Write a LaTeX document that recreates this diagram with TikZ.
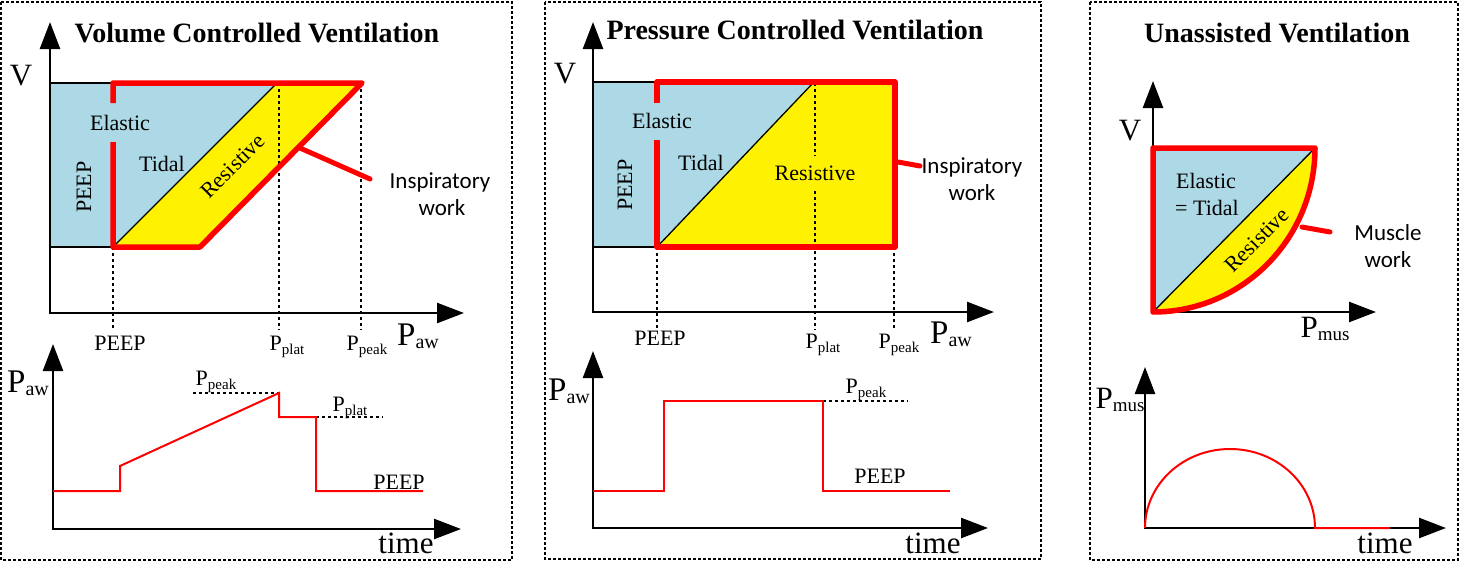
\documentclass[tikz,border=0pt]{standalone}
\usepackage{fontspec}
\setmainfont{Liberation Serif}
\newfontfamily\sansf{Carlito}
\usetikzlibrary{arrows.meta}
\definecolor{lblue}{HTML}{ADD8E6}
\newcommand{\Psb}[4]{{\fontsize{#1}{#1}\selectfont P}\raisebox{-#4pt}{\fontsize{#2}{#2}\selectfont #3}}
\tikzset{
  frame/.style={line width=1.5pt, dash pattern=on 3pt off 2pt},
  axis/.style={line width=2.5pt, -{Triangle[length=27pt,width=20pt]}},
  redline/.style={draw=red, line width=5.5pt, line join=round},
  conn/.style={red, line width=5pt, line cap=round},
  guide/.style={line width=1.3pt, dash pattern=on 3pt off 3pt},
  sig/.style={red, line width=2pt},
  thinblk/.style={line width=1.3pt},
  lbl/.style={font=\fontsize{22}{22}\selectfont, inner sep=0pt, anchor=base},
  rlbl/.style={font=\fontsize{22}{22}\selectfont, inner sep=0pt},
  big/.style={font=\fontsize{31}{31}\selectfont, inner sep=0pt, anchor=base},
  sans/.style={font=\sansf\fontsize{23}{23}\selectfont, inner sep=0pt, anchor=base},
  ttl/.style={font=\bfseries\fontsize{28}{28}\selectfont, inner sep=0pt, anchor=base},
}
\begin{document}
\begin{tikzpicture}[x=1pt,y=-1pt]
\useasboundingbox (0,0) rectangle (1462,562);
% frames
\draw[frame] (1,2) rectangle (512,560);
\draw[frame] (545,2) rectangle (1041,559);
\draw[frame] (1090,2) rectangle (1458,560);

% ===== Panel 1 =====
\fill[lblue] (50,83) -- (277,83) -- (113,247) -- (50,247) -- cycle;
\fill[yellow] (113,247) -- (277,83) -- (362,83) -- (200,247) -- cycle;
\draw[thinblk] (50,83) -- (113,83) (50,247) -- (113,247);
\draw[thinblk] (113,247) -- (277,83);
\draw[guide] (113,247) -- (113,330) (279,83) -- (279,330) (361,83) -- (361,330);
\draw[axis] (50,313) -- (50,22);
\draw[axis] (48.75,313) -- (464,313);
\draw[redline] (113,103) -- (113,83) -- (362,83) -- (200,247) -- (113,247) -- (113,142);
\coordinate (c1a) at (300,148);
\coordinate (c1b) at (370,179);
\draw[conn] (c1a) -- (c1b);
\node[ttl] (t1) at (257,42) {Volume Controlled Ventilation};
\node[big] (v1) at (21,85) {V};
\node[lbl] (el1) at (120,130) {Elastic};
\node[lbl] (ti1) at (162,171) {Tidal};
\node[rlbl, rotate=90] (pe1) at (84,187) {PEEP};
\node[rlbl, rotate=45] (re1) at (233,166) {Resistive};
\node[sans] (in1) at (440,188) {Inspiratory};
\node[sans] (wk1) at (442,215) {work};
\node[lbl] (px1) at (120,350) {PEEP};
\node[lbl] (pp1) at (287,350) {\Psb{22}{15}{plat}{4}};
\node[lbl] (pk1) at (367,350) {\Psb{22}{15}{peak}{4}};
\node[big] (pa1) at (418,345) {\Psb{33}{20}{aw}{3}};
% bottom
\draw[guide] (193,393) -- (279,393) (316,417) -- (383,417);
\draw[axis] (53,529) -- (53,344);
\draw[axis] (51.75,529) -- (461,529);
\draw[sig] (53,491) -- (120,491) -- (120,466) -- (279,393) -- (279,417) -- (316,417) -- (316,491) -- (423,491);
\node[big] (pa1b) at (28,392) {\Psb{33}{20}{aw}{3}};
\node[lbl] (pk1b) at (216,385) {\Psb{22}{15}{peak}{4}};
\node[lbl] (pp1b) at (350,411) {\Psb{22}{15}{plat}{4}};
\node[lbl] (pe1b) at (399,489) {PEEP};
\node[big] (tm1) at (406,553) {time};

% ===== Panel 2 =====
\fill[lblue] (593,82) -- (813,82) -- (657,247) -- (593,247) -- cycle;
\fill[yellow] (657,247) -- (813,82) -- (895,82) -- (895,247) -- cycle;
\draw[thinblk] (593,82) -- (657,82) (593,247) -- (657,247);
\draw[thinblk] (657,247) -- (813,83);
\draw[guide] (657,247) -- (657,330) (815,83) -- (815,330) (894,247) -- (894,330);
\draw[axis] (593,312) -- (593,22);
\draw[axis] (591.75,312) -- (994,312);
\draw[redline] (657,103) -- (657,82) -- (895,82) -- (895,247) -- (657,247) -- (657,140);
\coordinate (c2a) at (898,162);
\coordinate (c2b) at (920,166);
\draw[conn] (c2a) -- (c2b);
\node[ttl] (t2) at (795,39) {Pressure Controlled Ventilation};
\node[big] (v2) at (565,83) {V};
\node[lbl] (el2) at (662,128) {Elastic};
\node[lbl] (ti2) at (701,170) {Tidal};
\node[rlbl, rotate=90] (pe2) at (625,185) {PEEP};
\node[lbl, fill=yellow, inner ysep=9pt, inner xsep=0pt] (re2) at (815,180) {Resistive};
\node[sans] (in2) at (972,173) {Inspiratory};
\node[sans] (wk2) at (972,200) {work};
\node[lbl] (px2) at (660,345) {PEEP};
\node[lbl] (pp2) at (823,348) {\Psb{22}{15}{plat}{4}};
\node[lbl] (pk2) at (899,348) {\Psb{22}{15}{peak}{4}};
\node[big] (pa2) at (951,343) {\Psb{33}{20}{aw}{3}};
% bottom
\draw[guide] (823,401) -- (908,401);
\draw[axis] (593,528) -- (593,351);
\draw[axis] (591.75,528) -- (988,528);
\draw[sig] (593,491) -- (664,491) -- (664,401) -- (823,401) -- (823,491) -- (950,491);
\node[big] (pa2b) at (569,400) {\Psb{33}{20}{aw}{3}};
\node[lbl] (pk2b) at (866,393) {\Psb{22}{15}{peak}{4}};
\node[lbl] (pe2b) at (880,483) {PEEP};
\node[big] (tm2) at (933,553) {time};

% ===== Panel 3 =====
\fill[lblue] (1153,148) -- (1315,148) -- (1153,312) -- cycle;
\fill[yellow] (1153,312) -- (1315,148) arc[start angle=0, end angle=90, x radius=162, y radius=164] -- cycle;
\draw[thinblk] (1153,312) -- (1315,148);
\draw[axis] (1153,312) -- (1153,81);
\draw[axis] (1151.75,312) -- (1376,312);
\draw[redline] (1153,312) -- (1153,148) -- (1315,148) arc[start angle=0, end angle=90, x radius=162, y radius=164] -- cycle;
\coordinate (c3a) at (1302,227);
\coordinate (c3b) at (1330,232);
\draw[conn] (c3a) -- (c3b);
\node[ttl] (t3) at (1277,42) {Unassisted Ventilation};
\node[big] (v3) at (1130,140) {V};
\node[lbl] (el3) at (1206,188) {Elastic};
\node[lbl] (ti3) at (1207,215) {= Tidal};
\node[rlbl, rotate=45] (re3) at (1257,240) {Resistive};
\node[sans] (mu3) at (1388,240) {Muscle};
\node[sans] (wk3) at (1388,267) {work};
\node[big] (pm3) at (1325,337) {\Psb{31}{19}{mus}{3}};
% bottom
\draw[axis] (1145,528) -- (1145,367);
\draw[axis] (1143.75,528) -- (1446,528);
\draw[sig] (1145,528) arc[start angle=180, end angle=360, x radius=85, y radius=79] -- (1390,528);
\node[big] (pm3b) at (1120,408) {\Psb{31}{19}{mus}{3}};
\node[big] (tm3) at (1385,553) {time};
\end{tikzpicture}
\end{document}
